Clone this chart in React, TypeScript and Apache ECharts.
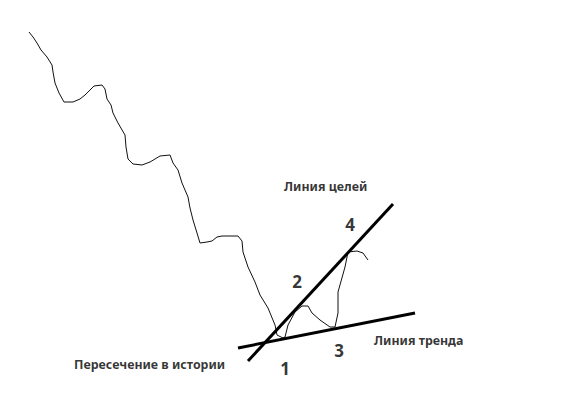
import React, { useEffect, useRef } from "react";
import * as echarts from "echarts";

const WIDTH = 575;
const HEIGHT = 414;

const priceX = [29,33,37,41,47,52,53,55,59,64,73,80,85,90,94,102,105,107,111,113,118,125,126,128,133,142,150,160,170,173,178,182,188,190,193,197,200,207,212,217,222,238,242,243,248,255,260,268,275,277,283,285,288,295,302,308,312,320,330,335,338,338,345,348,357,363,368];
const priceY = [32,37,43,50,57,65,72,83,93,102,102,99,95,90,86,85,89,99,105,113,123,135,147,159,164,165,162,156,155,163,170,183,197,208,220,233,243,242,241,237,236,236,241,252,267,282,295,308,325,335,338,337,325,312,306,306,313,320,327,327,313,292,267,252,251,253,260];

const targetLineX = [248, 393];
const targetLineY = [361, 204];
const trendLineX = [238, 415];
const trendLineY = [348, 313];

const captions = ["Линия целей", "Линия тренда", "Пересечение в истории"];
const captionX = [284, 374, 74];
const captionY = [186, 340, 364];
const numbers = ["1", "2", "3", "4"];
const numberX = [285, 297, 339, 350];
const numberY = [368, 281, 350, 224];

const zip = (xs: number[], ys: number[]) => xs.map((x, i) => [x, ys[i]]);

export default function App() {
  const ref = useRef<HTMLDivElement>(null);
  useEffect(() => {
    document.body.style.margin = "0";
    const chart = echarts.init(ref.current!, undefined, { renderer: "svg" });
    const font = '"Noto Sans", sans-serif';
    chart.setOption({
      animation: false,
      backgroundColor: "#ffffff",
      grid: { left: 0, right: 0, top: 0, bottom: 0 },
      xAxis: { type: "value", min: 0, max: WIDTH, show: false },
      yAxis: { type: "value", min: 0, max: HEIGHT, inverse: true, show: false },
      series: [
        {
          type: "line",
          data: zip(priceX, priceY),
          showSymbol: false,
          lineStyle: { color: "#111111", width: 1 },
        },
        {
          type: "line",
          data: zip(targetLineX, targetLineY),
          showSymbol: false,
          lineStyle: { color: "#000000", width: 3 },
        },
        {
          type: "line",
          data: zip(trendLineX, trendLineY),
          showSymbol: false,
          lineStyle: { color: "#000000", width: 3 },
        },
        {
          type: "scatter",
          symbolSize: 0,
          silent: true,
          data: captions.map((name, i) => ({ name, value: [captionX[i], captionY[i]] })),
          label: {
            show: true,
            position: "right",
            distance: 0,
            formatter: "{b}",
            fontFamily: font,
            fontWeight: "bold",
            fontSize: 12.4,
            color: "#000000",
          },
        },
        {
          type: "scatter",
          symbolSize: 0,
          silent: true,
          data: numbers.map((name, i) => ({ name, value: [numberX[i], numberY[i]] })),
          label: {
            show: true,
            position: "inside",
            formatter: "{b}",
            fontFamily: font,
            fontWeight: "bold",
            fontSize: 17,
            color: "#000000",
          },
        },
      ],
    });
    return () => chart.dispose();
  }, []);
  return <div ref={ref} style={{ width: WIDTH, height: HEIGHT }} />;
}
